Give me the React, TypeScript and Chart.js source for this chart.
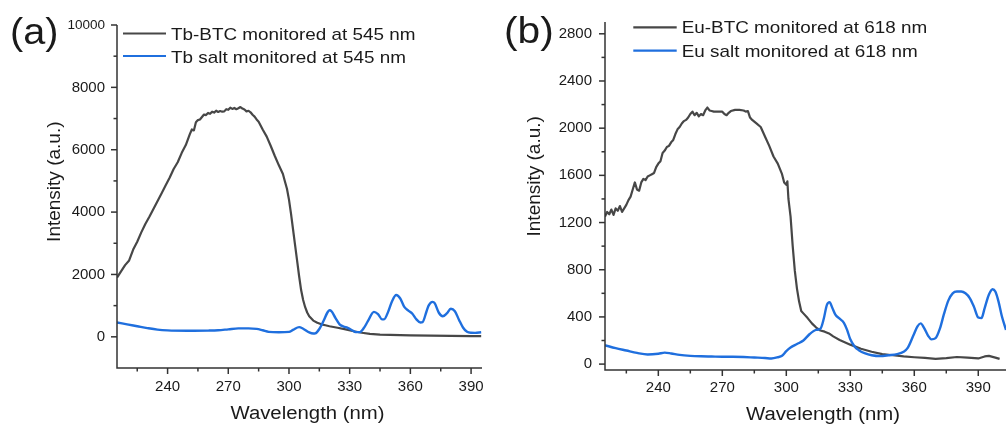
import React, { useEffect, useRef } from "react";
import { Chart, registerables } from "chart.js";

Chart.register(...registerables);

const FONT = "Arial, 'Liberation Sans', Helvetica, sans-serif";

// ---------------- Panel (a): Tb ----------------
const tbBtcWavelength = [
  215, 217, 219, 221, 223, 225, 227, 229, 231, 233, 235, 237, 239, 241, 243, 245, 247, 249, 251, 252,
  253, 254, 255, 256, 257, 258, 259, 260, 261, 262, 263, 264, 265, 266, 267, 268, 269, 270, 271, 272,
  273, 274, 275, 276, 277, 278, 279, 280, 281, 282, 283, 284, 285, 287, 289, 291, 293, 295, 297, 298,
  299, 300, 301, 302, 303, 304, 305, 306, 307, 308, 309, 310, 312, 314, 316, 318, 320, 324, 328, 332,
  336, 340, 345, 350, 360, 370, 380, 390, 395,
];
const tbBtcIntensity = [
  1900, 2100, 2300, 2450, 2800, 3050, 3350, 3620, 3850, 4100, 4350, 4600, 4850, 5100, 5380, 5600, 5900, 6150, 6500, 6650,
  6620, 6880, 6950, 6970, 7050, 7130, 7110, 7180, 7150, 7220, 7190, 7250, 7210, 7240, 7220, 7230, 7300, 7280, 7350, 7310,
  7340, 7300, 7330, 7370, 7320, 7290, 7230, 7250, 7200, 7120, 7060, 6970, 6900, 6650, 6420, 6120, 5800, 5500, 5220, 4980,
  4750, 4400, 3950, 3450, 2950, 2450, 1950, 1500, 1180, 950, 780, 660, 520, 450, 400, 370, 340, 290, 240, 180,
  130, 95, 72, 60, 45, 38, 30, 25, 22,
];
const tbSaltWavelength = [
  215, 220, 225, 230, 235, 240, 250, 260, 265, 270, 275, 280, 284, 287, 290, 295, 300, 302, 305, 307,
  310, 312, 313, 315, 317, 319, 320, 321, 323, 325, 327, 329, 331, 333, 335, 337, 339, 342, 344, 346,
  347, 349, 351, 353, 355, 357, 359, 361, 363, 365, 366, 368, 369, 371, 372, 374, 376, 378, 380, 382,
  384, 386, 388, 390, 392, 395,
];
const tbSaltIntensity = [
  460, 400, 340, 280, 230, 205, 195, 200, 210, 240, 270, 270, 255, 210, 160, 148, 160, 220, 310, 260,
  140, 105, 110, 250, 500, 780, 850, 820, 600, 400, 330, 290, 220, 150, 150, 280, 500, 800, 730, 560,
  560, 800, 1150, 1340, 1230, 960, 840, 740, 560, 460, 470, 820, 1000, 1120, 1080, 780, 660, 750, 900, 820,
  550, 300, 160, 130, 128, 148,
];

// ---------------- Panel (b): Eu ----------------
const euBtcWavelength = [
  215, 216, 217, 218, 219, 220, 221, 222, 223, 224, 225, 226, 227, 228, 229, 230, 231, 232, 233, 234,
  235, 236, 237, 238, 239, 240, 241, 242, 243, 244, 245, 246, 247, 248, 249, 250, 251, 252, 253, 254,
  255, 256, 257, 258, 259, 260, 261, 262, 263, 264, 265, 266, 268, 270, 271, 272, 273, 274, 276, 278,
  280, 281, 282, 283, 284, 286, 288, 290, 292, 294, 296, 298, 299, 300, 300.5, 301, 302, 303, 304, 305,
  306, 307, 308, 310, 312, 314, 316, 318, 320, 322, 325, 330, 335, 340, 345, 350, 355, 360, 365, 370,
  375, 380, 385, 390, 393, 395, 398, 400,
];
const euBtcIntensity = [
  1250, 1290, 1270, 1310, 1265, 1320, 1300, 1340, 1290, 1320, 1350, 1390, 1420, 1480, 1540, 1480, 1470, 1540, 1570, 1560,
  1590, 1600, 1610, 1620, 1670, 1700, 1720, 1790, 1810, 1840, 1850, 1880, 1900, 1950, 1990, 2010, 2040, 2060, 2070, 2090,
  2120, 2140, 2110, 2130, 2100, 2120, 2110, 2150, 2175, 2150, 2145, 2140, 2140, 2140, 2120, 2110, 2130, 2145, 2155, 2155,
  2150, 2140, 2145, 2090, 2070, 2040, 2010, 1930, 1850, 1760, 1700, 1610, 1540, 1520, 1550, 1400, 1250, 1000, 790, 640,
  530, 450, 430, 390, 345, 310, 285, 275, 260, 235, 205, 165, 130, 105, 85, 75, 65, 58, 52, 45,
  50, 60, 55, 48, 65, 70, 55, 44,
];
const euSaltWavelength = [
  215, 220, 225, 230, 235, 240, 243, 246, 250, 255, 260, 265, 270, 275, 280, 285, 290, 293, 296, 298,
  300, 302, 305, 308, 311, 314, 316, 317.5, 319, 320.3, 321.5, 323, 325, 327, 328.5, 330, 332, 334, 337, 340,
  344, 348, 352, 355, 357, 359.5, 361.5, 363, 364.5, 366.5, 368, 370, 372, 374, 376, 378, 380, 382, 384, 386,
  388, 390, 391.5, 393, 395, 396.7, 398, 399.5, 401, 403,
];
const euSaltIntensity = [
  160, 135, 115, 95, 82, 88, 97, 90, 78, 70, 66, 64, 62, 62, 60, 56, 52, 48, 58, 70,
  110, 140, 170, 200, 255, 290, 300, 380, 500, 525, 480, 420, 385, 350, 290, 210, 150, 118, 90, 75,
  68, 75, 85, 105, 140, 240, 320, 345, 310, 240, 210, 220, 300, 430, 540, 600, 615, 615, 600, 560,
  485, 395, 390, 475, 590, 635, 615, 530, 410, 290,
];

// ---------------- Ticks & labels ----------------
const xTickLabels = [240, 270, 300, 330, 360, 390];
const xMinorTicks = [225, 255, 285, 315, 345, 375];
const tbYTickLabels = [0, 2000, 4000, 6000, 8000, 10000];
const tbYMinorTicks = [1000, 3000, 5000, 7000, 9000];
const euYTickLabels = [0, 400, 800, 1200, 1600, 2000, 2400, 2800];
const euYMinorTicks = [200, 600, 1000, 1400, 1800, 2200, 2600];

const tbLegend = ["Tb-BTC monitored at 545 nm", "Tb salt monitored at 545 nm"];
const euLegend = ["Eu-BTC monitored at 618 nm", "Eu salt monitored at 618 nm"];
const xTitle = "Wavelength (nm)";
const yTitle = "Intensity (a.u.)";

const DARK = "#474747";
const BLUE = "#1f6fde";
const AXIS = "#333333";
const TEXT = "#1a1a1a";

type Series = { x: number[]; y: number[]; color: string; smooth: boolean; order: number; width: number };
type Spec = {
  left: number;
  width: number;
  height: number;
  pad: { left: number; top: number; right: number; bottom: number };
  yAxisWidth: number;
  xAxisHeight: number;
  xMin: number;
  xMax: number;
  yMin: number;
  yMax: number;
  yLabels: number[];
  yMinor: number[];
  xTickPad: number;
  yTickPad: number;
  series: Series[];
  panelLabel: string;
  panelLabelPos: { x: number; y: number; size: number };
  legend: string[];
  legendLine: { x0: number; x1: number; ys: number[] };
  legendText: { x: number; baselines: number[] };
  xTitlePos: { x: number; y: number };
  yTitlePos: { x: number; y: number };
};

function drawText(
  ctx: CanvasRenderingContext2D,
  text: string,
  x: number,
  y: number,
  size: number,
  align: CanvasTextAlign,
  sx: number,
  rotate = false
) {
  ctx.save();
  ctx.translate(x, y);
  if (rotate) ctx.rotate(-Math.PI / 2);
  ctx.scale(sx, 1);
  ctx.font = `${size}px ${FONT}`;
  ctx.textAlign = align;
  ctx.textBaseline = "alphabetic";
  ctx.fillStyle = TEXT;
  ctx.fillText(text, 0, 0);
  ctx.restore();
}

function decorPlugin(spec: Spec) {
  return {
    id: "decor",
    afterDraw(chart: any) {
      const ctx: CanvasRenderingContext2D = chart.ctx;
      const area = chart.chartArea;
      const xs = chart.scales.x;
      const ys = chart.scales.y;
      ctx.save();
      ctx.strokeStyle = AXIS;
      ctx.lineWidth = 1.5;
      ctx.lineCap = "butt";
      ctx.beginPath();
      ctx.moveTo(area.left, area.top);
      ctx.lineTo(area.left, area.bottom);
      ctx.lineTo(area.right, area.bottom);
      ctx.stroke();
      const tick = (x0: number, y0: number, x1: number, y1: number) => {
        ctx.beginPath();
        ctx.moveTo(x0, y0);
        ctx.lineTo(x1, y1);
        ctx.stroke();
      };
      for (const v of xTickLabels) {
        const px = xs.getPixelForValue(v);
        if (px <= area.right + 0.5) tick(px, area.bottom, px, area.bottom + 6);
      }
      for (const v of xMinorTicks) {
        const px = xs.getPixelForValue(v);
        if (px <= area.right + 0.5) tick(px, area.bottom, px, area.bottom + 3.5);
      }
      for (const v of spec.yLabels) {
        const py = ys.getPixelForValue(v);
        tick(area.left - 6, py, area.left, py);
      }
      for (const v of spec.yMinor) {
        const py = ys.getPixelForValue(v);
        tick(area.left - 3.5, py, area.left, py);
      }
      // legend
      ctx.lineWidth = 2.2;
      spec.legend.forEach((name, i) => {
        ctx.strokeStyle = spec.series[i].color;
        const y = spec.legendLine.ys[i];
        tick(spec.legendLine.x0, y, spec.legendLine.x1, y);
        drawText(ctx, name, spec.legendText.x, spec.legendText.baselines[i], 17, "left", 1.11);
      });
      // titles
      drawText(ctx, xTitle, spec.xTitlePos.x, spec.xTitlePos.y, 18, "center", 1.13);
      drawText(ctx, yTitle, spec.yTitlePos.x, spec.yTitlePos.y, 19, "center", 1.0, true);
      drawText(
        ctx,
        spec.panelLabel,
        spec.panelLabelPos.x,
        spec.panelLabelPos.y,
        spec.panelLabelPos.size,
        "left",
        1.1
      );
      ctx.restore();
    },
  };
}

function Panel({ spec }: { spec: Spec }) {
  const ref = useRef<HTMLCanvasElement | null>(null);
  useEffect(() => {
    if (!ref.current) return;
    const tickFont = { family: FONT, size: 15 };
    const chart = new Chart(ref.current, {
      type: "line",
      data: {
        datasets: spec.series.map((s, i) => ({
          label: spec.legend[i],
          data: s.x.map((x, k) => ({ x, y: s.y[k] })),
          borderColor: s.color,
          backgroundColor: s.color,
          borderWidth: s.width,
          pointRadius: 0,
          fill: false,
          tension: s.smooth ? 0.4 : 0,
          cubicInterpolationMode: s.smooth ? "monotone" : "default",
          borderJoinStyle: "round",
          order: s.order,
        })),
      },
      options: {
        responsive: false,
        maintainAspectRatio: false,
        animation: false,
        events: [],
        layout: { padding: spec.pad },
        plugins: {
          legend: { display: false },
          tooltip: { enabled: false },
          title: { display: false },
        },
        scales: {
          x: {
            type: "linear",
            min: spec.xMin,
            max: spec.xMax,
            grid: { display: false, drawTicks: false },
            border: { display: false },
            afterBuildTicks: (sc: any) => {
              sc.ticks = xTickLabels.map((v) => ({ value: v }));
            },
            afterFit: (sc: any) => {
              sc.height = spec.xAxisHeight;
            },
            ticks: {
              padding: spec.xTickPad,
              color: TEXT,
              font: tickFont,
              maxRotation: 0,
              minRotation: 0,
              autoSkip: false,
              callback: (v: any) => String(v),
            },
          },
          y: {
            type: "linear",
            min: spec.yMin,
            max: spec.yMax,
            grid: { display: false, drawTicks: false },
            border: { display: false },
            afterBuildTicks: (sc: any) => {
              sc.ticks = spec.yLabels.map((v) => ({ value: v }));
            },
            afterFit: (sc: any) => {
              sc.width = spec.yAxisWidth;
            },
            ticks: {
              padding: spec.yTickPad,
              color: TEXT,
              font: (c: any) =>
                c.tick && c.tick.value >= 10000 ? { family: FONT, size: 13.5 } : tickFont,
              autoSkip: false,
              callback: (v: any) => String(v),
            },
          },
        },
      } as any,
      plugins: [decorPlugin(spec)],
    });
    return () => chart.destroy();
  }, [spec]);
  return (
    <canvas
      ref={ref}
      width={spec.width}
      height={spec.height}
      style={{ position: "absolute", left: spec.left, top: 0, width: spec.width, height: spec.height }}
    />
  );
}

const specA: Spec = {
  left: 0,
  width: 500,
  height: 428,
  pad: { left: 0, top: 25, right: 18, bottom: 0 },
  yAxisWidth: 117,
  xAxisHeight: 60,
  xMin: 215,
  xMax: 395.4,
  yMin: -1000,
  yMax: 10000,
  yLabels: tbYTickLabels,
  yMinor: tbYMinorTicks,
  xTickPad: 10,
  yTickPad: 12,
  series: [
    { x: tbBtcWavelength, y: tbBtcIntensity, color: DARK, smooth: false, order: 1, width: 2.2 },
    { x: tbSaltWavelength, y: tbSaltIntensity, color: BLUE, smooth: true, order: 0, width: 2.4 },
  ],
  panelLabel: "(a)",
  panelLabelPos: { x: 10, y: 44, size: 36 },
  legend: tbLegend,
  legendLine: { x0: 123, x1: 166, ys: [33.5, 56] },
  legendText: { x: 171, baselines: [40, 62.7] },
  xTitlePos: { x: 307.5, y: 418.5 },
  yTitlePos: { x: 59.8, y: 181.7 },
};

const specB: Spec = {
  left: 500,
  width: 506,
  height: 428,
  pad: { left: 0, top: 12, right: 0, bottom: 0 },
  yAxisWidth: 105,
  xAxisHeight: 58,
  xMin: 215,
  xMax: 403,
  yMin: -50,
  yMax: 2900,
  yLabels: euYTickLabels,
  yMinor: euYMinorTicks,
  xTickPad: 9,
  yTickPad: 13,
  series: [
    { x: euBtcWavelength, y: euBtcIntensity, color: DARK, smooth: false, order: 1, width: 2.2 },
    { x: euSaltWavelength, y: euSaltIntensity, color: BLUE, smooth: true, order: 0, width: 2.4 },
  ],
  panelLabel: "(b)",
  panelLabelPos: { x: 4, y: 42.5, size: 37 },
  legend: euLegend,
  legendLine: { x0: 133.3, x1: 176.7, ys: [27.3, 50.7] },
  legendText: { x: 181.7, baselines: [33.3, 56.7] },
  xTitlePos: { x: 323, y: 419.5 },
  yTitlePos: { x: 39.8, y: 176.3 },
};

export default function App() {
  return (
    <div
      style={{
        position: "fixed",
        left: 0,
        top: 0,
        width: 1006,
        height: 428,
        background: "#ffffff",
        overflow: "hidden",
      }}
    >
      <Panel spec={specA} />
      <Panel spec={specB} />
    </div>
  );
}
